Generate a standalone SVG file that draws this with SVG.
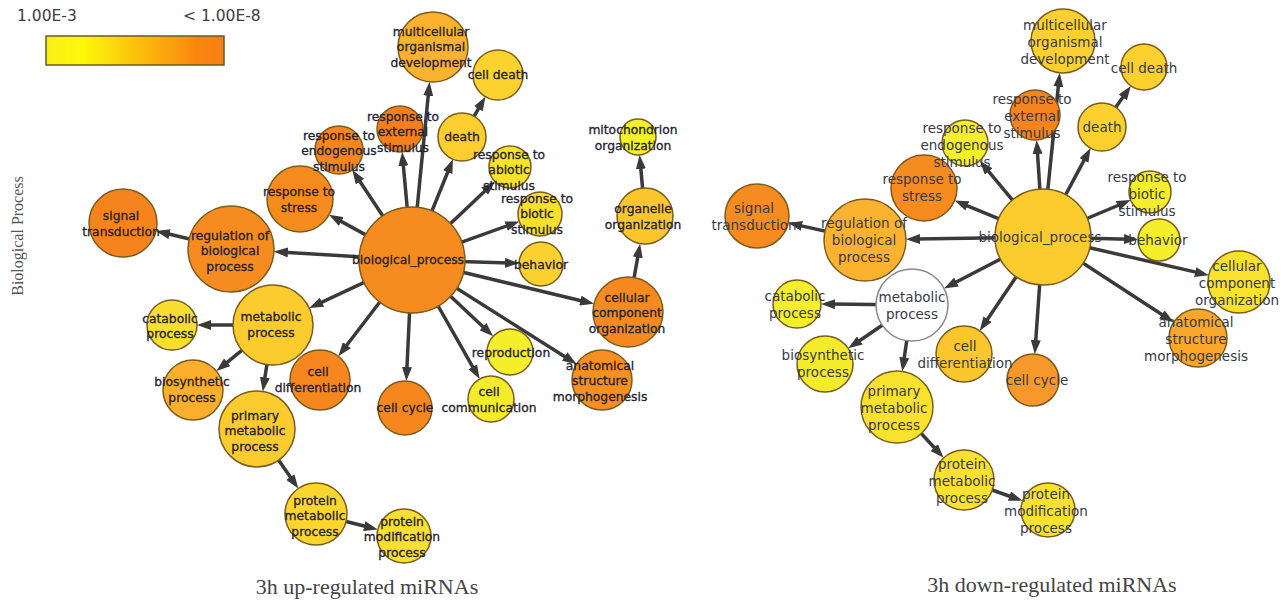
<svg xmlns="http://www.w3.org/2000/svg" width="1284" height="601" viewBox="0 0 1284 601">
<style>
.e{stroke:#3a3a3a;stroke-width:3.5;fill:none;marker-end:url(#ah)}
.n{stroke:#7a5c1e;stroke-width:1.5}
.tl{font-family:"DejaVu Sans",sans-serif;font-size:12.3px;fill:#22222e;stroke:#22222e;stroke-width:0.3;text-anchor:middle}
.tr{font-family:"DejaVu Sans",sans-serif;font-size:13.5px;fill:#383a48;text-anchor:middle}
.cap{font-family:"Liberation Serif",serif;font-size:22px;fill:#444;text-anchor:middle}
.leg{font-family:"DejaVu Sans",sans-serif;font-size:15.5px;fill:#3d3d3d}
</style>
<defs>
<marker id="ah" markerUnits="userSpaceOnUse" markerWidth="14" markerHeight="10" refX="4" refY="5" orient="auto">
<path d="M0,0 L14,5 L0,10 z" fill="#3a3a3a"/>
</marker>
<linearGradient id="grad" x1="0" x2="1" y1="0" y2="0">
<stop offset="0" stop-color="#f8f018"/>
<stop offset="0.2" stop-color="#fdf80a"/>
<stop offset="0.5" stop-color="#fdc20c"/>
<stop offset="0.85" stop-color="#fb860f"/>
<stop offset="1" stop-color="#f87f16"/>
</linearGradient>
</defs>
<rect width="1284" height="601" fill="#fff"/>

<g id="legend">
<text class="leg" x="17" y="21">1.00E-3</text>
<text class="leg" x="183" y="21">&lt; 1.00E-8</text>
<rect x="46" y="36" width="178" height="29" fill="url(#grad)" stroke="#6b5a1f" stroke-width="1.5"/>
</g>
<text x="17" y="236" transform="rotate(-90 17 236)" font-family="Liberation Serif, serif" font-size="16" fill="#555" text-anchor="middle" dominant-baseline="central">Biological Process</text>

<g id="connectors">
<line class="e" x1="412" y1="260" x2="283.9" y2="252.2"/>
<line class="e" x1="412" y1="260" x2="337.8" y2="219.6"/>
<line class="e" x1="412" y1="260" x2="357.8" y2="178.3"/>
<line class="e" x1="412" y1="260" x2="403" y2="161.9"/>
<line class="e" x1="412" y1="260" x2="428.6" y2="91.8"/>
<line class="e" x1="412" y1="260" x2="449.2" y2="168.5"/>
<line class="e" x1="412" y1="260" x2="487.6" y2="188.4"/>
<line class="e" x1="412" y1="260" x2="509.9" y2="224.8"/>
<line class="e" x1="412" y1="260" x2="509" y2="263"/>
<line class="e" x1="412" y1="260" x2="584.3" y2="301.5"/>
<line class="e" x1="412" y1="260" x2="568.1" y2="358.7"/>
<line class="e" x1="412" y1="260" x2="485.9" y2="329.5"/>
<line class="e" x1="412" y1="260" x2="474.7" y2="370.3"/>
<line class="e" x1="412" y1="260" x2="406.8" y2="371"/>
<line class="e" x1="412" y1="260" x2="344.4" y2="348.3"/>
<line class="e" x1="412" y1="260" x2="318.3" y2="303.8"/>
<line class="e" x1="231" y1="249" x2="165.7" y2="233.3"/>
<line class="e" x1="462" y1="137" x2="480.4" y2="105.3"/>
<line class="e" x1="628" y1="312" x2="638.4" y2="253.5"/>
<line class="e" x1="645" y1="216" x2="640.5" y2="164.9"/>
<line class="e" x1="273" y1="325" x2="207" y2="325"/>
<line class="e" x1="273" y1="325" x2="224.1" y2="364.8"/>
<line class="e" x1="273" y1="325" x2="264.3" y2="381.5"/>
<line class="e" x1="257" y1="429" x2="292.6" y2="480.3"/>
<line class="e" x1="316" y1="514" x2="368.1" y2="527"/>

<line class="e" x1="1043" y1="237" x2="916" y2="239.1"/>
<line class="e" x1="1043" y1="237" x2="963.8" y2="204.4"/>
<line class="e" x1="1043" y1="237" x2="986.1" y2="168.4"/>
<line class="e" x1="1043" y1="237" x2="1037.3" y2="150"/>
<line class="e" x1="1043" y1="237" x2="1058.7" y2="82.8"/>
<line class="e" x1="1043" y1="237" x2="1085.9" y2="156.9"/>
<line class="e" x1="1043" y1="237" x2="1121.4" y2="204"/>
<line class="e" x1="1043" y1="237" x2="1128" y2="239.2"/>
<line class="e" x1="1043" y1="237" x2="1199.1" y2="272.9"/>
<line class="e" x1="1043" y1="237" x2="1165.3" y2="316.7"/>
<line class="e" x1="1043" y1="237" x2="1035.5" y2="344.1"/>
<line class="e" x1="1043" y1="237" x2="985.3" y2="322.5"/>
<line class="e" x1="1043" y1="237" x2="952.9" y2="283.8"/>
<line class="e" x1="865" y1="240" x2="798" y2="225.1"/>
<line class="e" x1="1102" y1="127" x2="1125.1" y2="94.1"/>
<line class="e" x1="912" y1="305" x2="831" y2="304.1"/>
<line class="e" x1="912" y1="305" x2="856.5" y2="342.7"/>
<line class="e" x1="912" y1="305" x2="903.7" y2="361.5"/>
<line class="e" x1="897" y1="407" x2="936.9" y2="450.5"/>
<line class="e" x1="964" y1="480" x2="1013.2" y2="497.5"/>
</g>

<!-- Left network -->
<g id="L-bio"><circle class="n" cx="412" cy="260" r="53" fill="#f68b1f"/><text class="tl" x="408" y="264">biological_process</text></g>
<g id="L-reg"><circle class="n" cx="231" cy="249" r="43" fill="#f68b1f"/><text class="tl"><tspan x="230" y="239.5">regulation of</tspan><tspan x="230" y="255">biological</tspan><tspan x="230" y="270.5">process</tspan></text></g>
<g id="L-sig"><circle class="n" cx="123" cy="223" r="34" fill="#f5841e"/><text class="tl"><tspan x="121" y="220">signal</tspan><tspan x="121" y="236">transduction</tspan></text></g>
<g id="L-stress"><circle class="n" cx="300" cy="199" r="33" fill="#f68b1f"/><text class="tl"><tspan x="299" y="196">response to</tspan><tspan x="299" y="212">stress</tspan></text></g>
<g id="L-endo"><circle class="n" cx="339" cy="150" r="24" fill="#f6871f"/><text class="tl"><tspan x="339" y="139.5">response to</tspan><tspan x="339" y="155">endogenous</tspan><tspan x="339" y="170.5">stimulus</tspan></text></g>
<g id="L-ext"><circle class="n" cx="400" cy="129" r="23" fill="#f47f1e"/><text class="tl"><tspan x="403" y="120.5">response to</tspan><tspan x="403" y="136">external</tspan><tspan x="403" y="151.5">stimulus</tspan></text></g>
<g id="L-multi"><circle class="n" cx="433" cy="47" r="35" fill="#fbb22e"/><text class="tl"><tspan x="431" y="35.5">multicellular</tspan><tspan x="431" y="51">organismal</tspan><tspan x="431" y="66.5">development</tspan></text></g>
<g id="L-celldeath"><circle class="n" cx="498" cy="75" r="25" fill="#fcd22f"/><text class="tl" x="498" y="79">cell death</text></g>
<g id="L-death"><circle class="n" cx="462" cy="137" r="24" fill="#fccf2f"/><text class="tl" x="462" y="141">death</text></g>
<g id="L-abiotic"><circle class="n" cx="510" cy="167" r="21" fill="#f8e22e"/><text class="tl"><tspan x="509" y="158.5">response to</tspan><tspan x="509" y="174">abiotic</tspan><tspan x="509" y="189.5">stimulus</tspan></text></g>
<g id="L-biotic"><circle class="n" cx="540" cy="214" r="22" fill="#f9df2e"/><text class="tl"><tspan x="537" y="202.5">response to</tspan><tspan x="537" y="218">biotic</tspan><tspan x="537" y="233.5">stimulus</tspan></text></g>
<g id="L-behavior"><circle class="n" cx="541" cy="264" r="22" fill="#fcd12f"/><text class="tl" x="541" y="269">behavior</text></g>
<g id="L-mito"><circle class="n" cx="638" cy="137" r="18" fill="#f3f02a"/><text class="tl"><tspan x="633" y="134">mitochondrion</tspan><tspan x="633" y="150">organization</tspan></text></g>
<g id="L-organelle"><circle class="n" cx="645" cy="216" r="28" fill="#fcc62d"/><text class="tl"><tspan x="643" y="213">organelle</tspan><tspan x="643" y="229">organization</tspan></text></g>
<g id="L-cellular"><circle class="n" cx="628" cy="312" r="35" fill="#f68a1f"/><text class="tl"><tspan x="627" y="301.5">cellular</tspan><tspan x="627" y="317">component</tspan><tspan x="627" y="332.5">organization</tspan></text></g>
<g id="L-anat"><circle class="n" cx="602" cy="380" r="30" fill="#f78f22"/><text class="tl"><tspan x="600" y="369.5">anatomical</tspan><tspan x="600" y="385">structure</tspan><tspan x="600" y="400.5">morphogenesis</tspan></text></g>
<g id="L-repro"><circle class="n" cx="510" cy="352" r="23" fill="#f4ef2a"/><text class="tl" x="511" y="357">reproduction</text></g>
<g id="L-comm"><circle class="n" cx="491" cy="399" r="23" fill="#f4ec2a"/><text class="tl"><tspan x="489" y="396">cell</tspan><tspan x="489" y="412">communication</tspan></text></g>
<g id="L-cycle"><circle class="n" cx="405" cy="408" r="27" fill="#f6871f"/><text class="tl" x="405" y="412">cell cycle</text></g>
<g id="L-diff"><circle class="n" cx="320" cy="380" r="30" fill="#f6871f"/><text class="tl"><tspan x="318" y="376">cell</tspan><tspan x="318" y="392">differentiation</tspan></text></g>
<g id="L-metab"><circle class="n" cx="273" cy="325" r="40" fill="#fccb2d"/><text class="tl"><tspan x="271" y="321">metabolic</tspan><tspan x="271" y="337">process</tspan></text></g>
<g id="L-catab"><circle class="n" cx="172" cy="325" r="25" fill="#f8de2e"/><text class="tl"><tspan x="170" y="323">catabolic</tspan><tspan x="170" y="338">process</tspan></text></g>
<g id="L-biosyn"><circle class="n" cx="193" cy="390" r="30" fill="#fbaf2d"/><text class="tl"><tspan x="192" y="386">biosynthetic</tspan><tspan x="192" y="402">process</tspan></text></g>
<g id="L-primary"><circle class="n" cx="257" cy="429" r="38" fill="#fccb2d"/><text class="tl"><tspan x="255" y="419.5">primary</tspan><tspan x="255" y="435">metabolic</tspan><tspan x="255" y="450.5">process</tspan></text></g>
<g id="L-protmet"><circle class="n" cx="316" cy="514" r="31" fill="#fcd62e"/><text class="tl"><tspan x="315" y="504.5">protein</tspan><tspan x="315" y="520">metabolic</tspan><tspan x="315" y="535.5">process</tspan></text></g>
<g id="L-protmod"><circle class="n" cx="404" cy="536" r="27" fill="#f8e02e"/><text class="tl"><tspan x="402" y="525.5">protein</tspan><tspan x="402" y="541">modification</tspan><tspan x="402" y="556.5">process</tspan></text></g>

<!-- Right network -->
<g id="R-bio"><circle class="n" cx="1043" cy="237" r="48" fill="#fccb2d"/><text class="tr" x="1040" y="241.5">biological_process</text></g>
<g id="R-reg"><circle class="n" cx="865" cy="240" r="41" fill="#fbb22f"/><text class="tr"><tspan x="864" y="227.5">regulation of</tspan><tspan x="864" y="244.5">biological</tspan><tspan x="864" y="261.5">process</tspan></text></g>
<g id="R-sig"><circle class="n" cx="757" cy="216" r="32" fill="#f68b1f"/><text class="tr"><tspan x="754" y="213">signal</tspan><tspan x="754" y="230">transduction</tspan></text></g>
<g id="R-stress"><circle class="n" cx="924" cy="188" r="33" fill="#f68b1f"/><text class="tr"><tspan x="922" y="184">response to</tspan><tspan x="922" y="201">stress</tspan></text></g>
<g id="R-endo"><circle class="n" cx="965" cy="143" r="23" fill="#f4ef2a"/><text class="tr"><tspan x="962" y="132.5">response to</tspan><tspan x="962" y="149.5">endogenous</tspan><tspan x="962" y="166.5">stimulus</tspan></text></g>
<g id="R-ext"><circle class="n" cx="1035" cy="115" r="25" fill="#f5831e"/><text class="tr"><tspan x="1032" y="103.5">response to</tspan><tspan x="1032" y="120.5">external</tspan><tspan x="1032" y="137.5">stimulus</tspan></text></g>
<g id="R-multi"><circle class="n" cx="1063" cy="41" r="32" fill="#fcd12f"/><text class="tr"><tspan x="1065" y="29.5">multicellular</tspan><tspan x="1065" y="46.5">organismal</tspan><tspan x="1065" y="63.5">development</tspan></text></g>
<g id="R-celldeath"><circle class="n" cx="1144" cy="67" r="23" fill="#fcd12f"/><text class="tr" x="1144" y="72.5">cell death</text></g>
<g id="R-death"><circle class="n" cx="1102" cy="127" r="24" fill="#fcd12f"/><text class="tr" x="1102" y="131.5">death</text></g>
<g id="R-biotic"><circle class="n" cx="1150" cy="192" r="21" fill="#f4ef2a"/><text class="tr"><tspan x="1147" y="181.5">response to</tspan><tspan x="1147" y="198.5">biotic</tspan><tspan x="1147" y="215.5">stimulus</tspan></text></g>
<g id="R-behavior"><circle class="n" cx="1159" cy="240" r="21" fill="#f4ef2a"/><text class="tr" x="1158" y="244.5">behavior</text></g>
<g id="R-cellular"><circle class="n" cx="1239" cy="282" r="31" fill="#f8e22e"/><text class="tr"><tspan x="1237" y="270.5">cellular</tspan><tspan x="1237" y="287.5">component</tspan><tspan x="1237" y="304.5">organization</tspan></text></g>
<g id="R-anat"><circle class="n" cx="1198" cy="338" r="29" fill="#fba72a"/><text class="tr"><tspan x="1196" y="326.5">anatomical</tspan><tspan x="1196" y="343.5">structure</tspan><tspan x="1196" y="360.5">morphogenesis</tspan></text></g>
<g id="R-cycle"><circle class="n" cx="1033" cy="380" r="26" fill="#f7982a"/><text class="tr" x="1037" y="384.5">cell cycle</text></g>
<g id="R-diff"><circle class="n" cx="964" cy="354" r="28" fill="#fcc62d"/><text class="tr"><tspan x="965" y="351">cell</tspan><tspan x="965" y="368">differentiation</tspan></text></g>
<g id="R-metab"><circle cx="912" cy="305" r="36" fill="#fff" stroke="#888" stroke-width="1.5"/><text class="tr"><tspan x="912" y="302">metabolic</tspan><tspan x="912" y="319">process</tspan></text></g>
<g id="R-catab"><circle class="n" cx="797" cy="304" r="24" fill="#f4ef2a"/><text class="tr"><tspan x="795" y="301">catabolic</tspan><tspan x="795" y="318">process</tspan></text></g>
<g id="R-biosyn"><circle class="n" cx="825" cy="364" r="28" fill="#f4ec2a"/><text class="tr"><tspan x="823" y="360">biosynthetic</tspan><tspan x="823" y="377">process</tspan></text></g>
<g id="R-primary"><circle class="n" cx="897" cy="407" r="36" fill="#f8e22e"/><text class="tr"><tspan x="894" y="395.5">primary</tspan><tspan x="894" y="412.5">metabolic</tspan><tspan x="894" y="429.5">process</tspan></text></g>
<g id="R-protmet"><circle class="n" cx="964" cy="480" r="30" fill="#f8e22e"/><text class="tr"><tspan x="962" y="468.5">protein</tspan><tspan x="962" y="485.5">metabolic</tspan><tspan x="962" y="502.5">process</tspan></text></g>
<g id="R-protmod"><circle class="n" cx="1048" cy="510" r="27" fill="#f8e22e"/><text class="tr"><tspan x="1046" y="498.5">protein</tspan><tspan x="1046" y="515.5">modification</tspan><tspan x="1046" y="532.5">process</tspan></text></g>

<text class="cap" x="367" y="594">3h up-regulated miRNAs</text>
<text class="cap" x="1052" y="592">3h down-regulated miRNAs</text>
</svg>
